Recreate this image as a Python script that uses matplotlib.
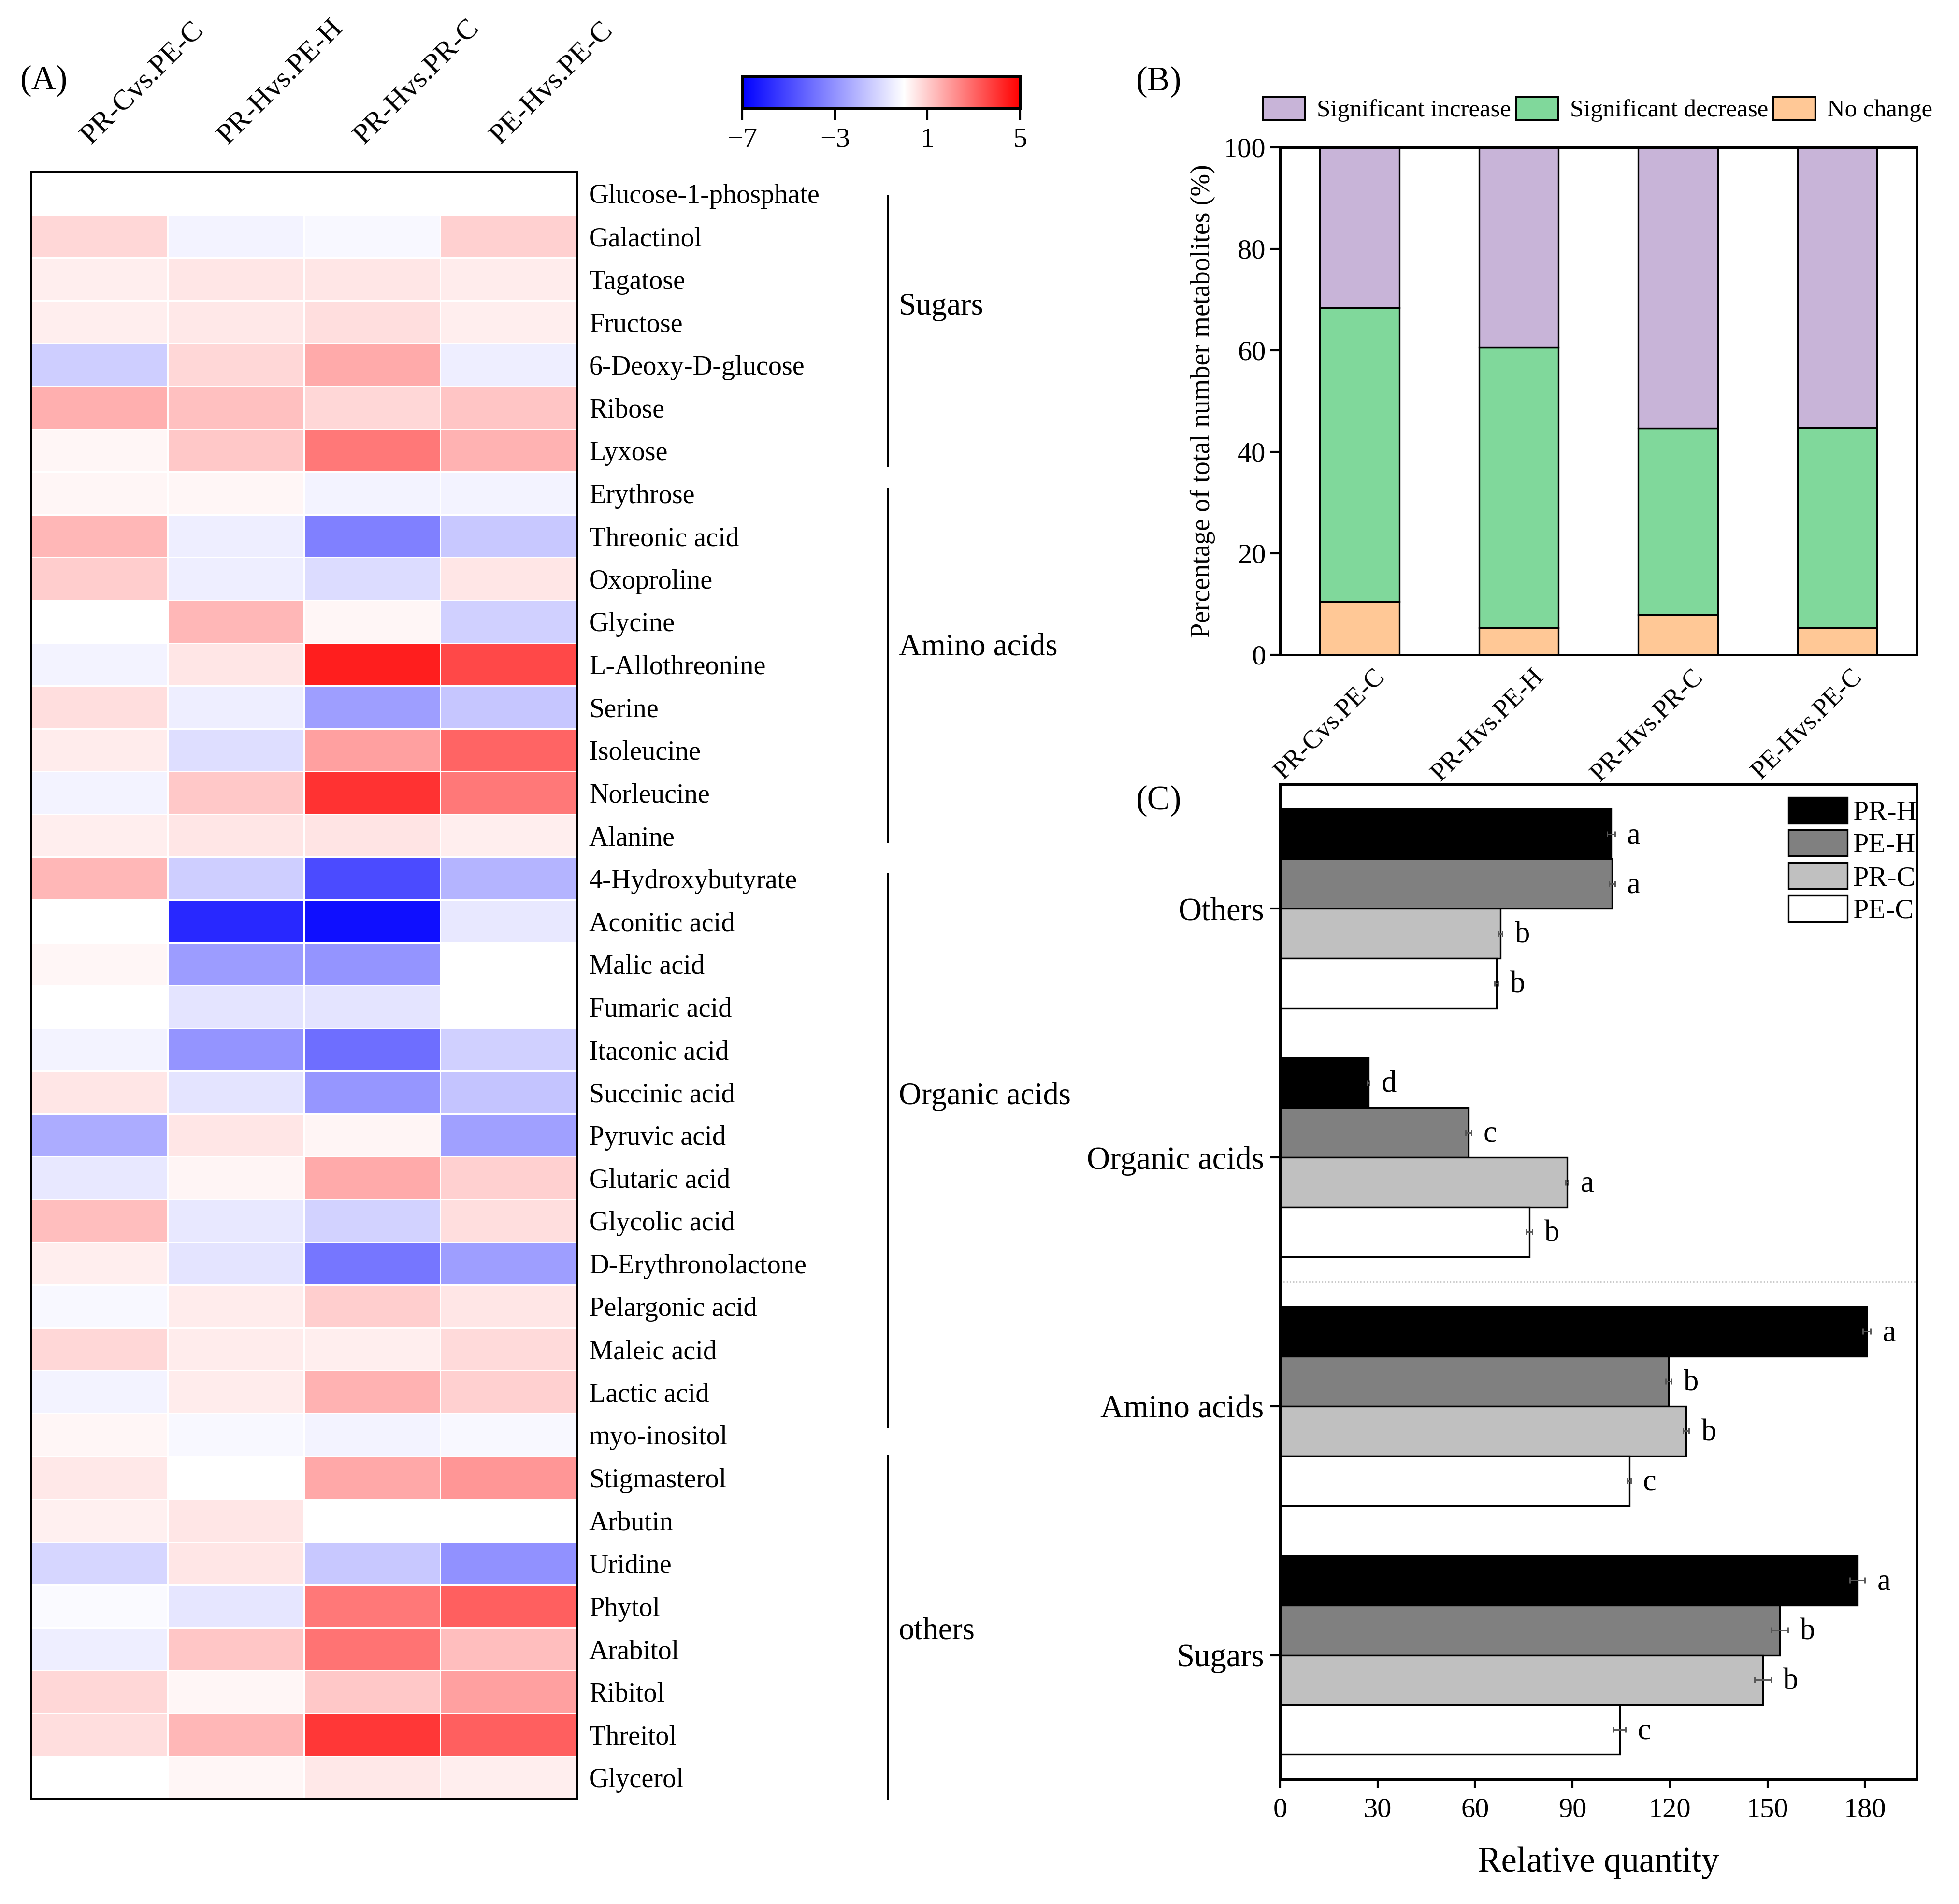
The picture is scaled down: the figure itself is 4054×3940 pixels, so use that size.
import numpy as np
import matplotlib
matplotlib.use('Agg')
import matplotlib.pyplot as plt
import matplotlib.transforms as mtransforms
from matplotlib.colors import LinearSegmentedColormap, Normalize
from matplotlib.patches import Patch

plt.rcParams['font.family'] = ['Liberation Serif', 'DejaVu Serif']

# ---------------- data ----------------
comparisons = ['PR-Cvs.PE-C', 'PR-Hvs.PE-H', 'PR-Hvs.PR-C', 'PE-Hvs.PE-C']

metabolites = [
    'Glucose-1-phosphate', 'Galactinol', 'Tagatose', 'Fructose', '6-Deoxy-D-glucose',
    'Ribose', 'Lyxose',
    'Erythrose', 'Threonic acid', 'Oxoproline', 'Glycine', 'L-Allothreonine', 'Serine',
    'Isoleucine', 'Norleucine', 'Alanine',
    '4-Hydroxybutyrate', 'Aconitic acid', 'Malic acid', 'Fumaric acid', 'Itaconic acid',
    'Succinic acid', 'Pyruvic acid', 'Glutaric acid', 'Glycolic acid', 'D-Erythronolactone',
    'Pelargonic acid', 'Maleic acid', 'Lactic acid', 'myo-inositol',
    'Stigmasterol', 'Arbutin', 'Uridine', 'Phytol', 'Arabitol', 'Ribitol', 'Threitol', 'Glycerol',
]

groups = ['Sugars', 'Amino acids', 'Organic acids', 'others']

# log2 fold change, one row per metabolite, columns follow `comparisons`
fold_change = np.array([
    [0.00, 0.00, 0.00, 0.00],
    [0.78, -0.33, -0.19, 0.92],
    [0.33, 0.49, 0.49, 0.37],
    [0.33, 0.45, 0.65, 0.33],
    [-1.35, 0.78, 1.67, -0.47],
    [1.57, 1.24, 0.78, 1.14],
    [0.18, 1.08, 2.65, 1.51],
    [0.18, 0.18, -0.33, -0.33],
    [1.41, -0.47, -3.49, -1.51],
    [0.98, -0.47, -0.96, 0.49],
    [0.00, 1.41, 0.18, -1.29],
    [-0.33, 0.49, 4.41, 3.59],
    [0.65, -0.47, -2.66, -1.56],
    [0.37, -0.91, 1.86, 3.04],
    [-0.33, 1.08, 4.02, 2.65],
    [0.33, 0.49, 0.53, 0.33],
    [1.41, -1.35, -4.94, -2.06],
    [0.00, -5.90, -6.59, -0.63],
    [0.18, -2.72, -2.94, 0.00],
    [0.00, -0.74, -0.74, 0.00],
    [-0.33, -2.94, -3.98, -1.29],
    [0.49, -0.74, -2.88, -1.62],
    [-2.28, 0.49, 0.20, -2.61],
    [-0.63, 0.20, 1.67, 0.92],
    [1.27, -0.63, -1.24, 0.65],
    [0.33, -0.74, -3.76, -2.66],
    [-0.19, 0.37, 0.96, 0.49],
    [0.78, 0.37, 0.33, 0.73],
    [-0.33, 0.37, 1.51, 0.92],
    [0.18, -0.19, -0.33, -0.19],
    [0.45, 0.00, 1.71, 2.06],
    [0.29, 0.49, 0.00, 0.00],
    [-1.13, 0.49, -1.51, -3.02],
    [-0.14, -0.69, 2.65, 3.14],
    [-0.47, 1.12, 2.75, 1.27],
    [0.78, 0.18, 1.08, 1.86],
    [0.65, 1.41, 3.92, 3.14],
    [0.00, 0.18, 0.45, 0.33],
])

# panel B: share of metabolites (%)
pct_increase = [31.6, 39.5, 55.3, 55.3]
pct_decrease = [57.9, 55.3, 36.8, 39.5]
pct_nochange = [10.5, 5.3, 7.9, 5.3]

# panel C: relative quantity per class (bottom to top)
classes = ['Sugars', 'Amino acids', 'Organic acids', 'Others']
treatments = ['PR-H', 'PE-H', 'PR-C', 'PE-C']
rel_qty = {
    'PR-H': [177.7, 180.5, 27.2, 101.9],
    'PE-H': [153.8, 119.6, 58.0, 102.2],
    'PR-C': [148.6, 125.0, 88.3, 67.8],
    'PE-C': [104.5, 107.5, 76.7, 66.6],
}
rel_err = {
    'PR-H': [2.3, 1.2, 0.3, 1.2],
    'PE-H': [2.5, 0.9, 0.9, 0.9],
    'PR-C': [2.5, 0.9, 0.4, 0.7],
    'PE-C': [1.8, 0.5, 0.9, 0.5],
}
letters = {
    'PR-H': ['a', 'a', 'd', 'a'],
    'PE-H': ['b', 'b', 'c', 'a'],
    'PR-C': ['b', 'b', 'a', 'b'],
    'PE-C': ['c', 'c', 'b', 'b'],
}

# ---------------- layout helpers ----------------
bracket_spans = [(0.55, 6.85), (7.4, 15.65), (16.4, 29.3), (30.0, 38.0)]
group_label_rows = [3.15, 11.1, 21.6, 34.1]

fig = plt.figure(figsize=(4054 / 300, 3940 / 300), dpi=300)

# ---------------- (A) heatmap ----------------
# white sits exactly at 0 on a -7..5 scale
cmap = LinearSegmentedColormap.from_list('bwr_shift', [(0, 'blue'), (7 / 12, 'white'), (1, 'red')], N=1201)
norm = Normalize(vmin=-7, vmax=5)

axA = fig.add_axes([0.0158, 0.0553, 0.2787, 0.8543])
n_rows, n_cols = fold_change.shape
mesh = axA.pcolormesh(np.arange(n_cols + 1), np.arange(n_rows + 1), fold_change,
                      cmap=cmap, norm=norm, edgecolors='white', linewidth=0.7)
axA.set_xlim(0, n_cols)
axA.set_ylim(n_rows, 0)
axA.set_xticks([])
axA.yaxis.tick_right()
axA.set_yticks(np.arange(n_rows) + 0.5)
axA.set_yticklabels(metabolites, fontsize=13.5)
axA.tick_params(axis='y', length=0, pad=6)
for sp in axA.spines.values():
    sp.set_linewidth(1.2)

col_trans = mtransforms.blended_transform_factory(axA.transData, axA.transAxes)
for i, c in enumerate(comparisons):
    axA.text(i + 0.47, 1.014, c, transform=col_trans, rotation=45, rotation_mode='anchor',
             ha='left', va='bottom', fontsize=14.5)

grp_trans = mtransforms.blended_transform_factory(fig.transFigure, axA.transData)
for g, (s, e), yl in zip(groups, bracket_spans, group_label_rows):
    axA.plot([0.4531, 0.4531], [s, e], transform=grp_trans, clip_on=False, color='black', lw=1.2)
    axA.text(0.4588, yl, g, transform=grp_trans, ha='left', va='center', fontsize=15.5)

cax = fig.add_axes([0.3789, 0.9431, 0.1418, 0.01675])
cb = fig.colorbar(mesh, cax=cax, orientation='horizontal', ticks=[-7, -3, 1, 5])
cax.tick_params(length=6, width=1, labelsize=14, direction='out')
cb.outline.set_linewidth(1.2)

# ---------------- (B) stacked bars ----------------
axB = fig.add_axes([0.6534, 0.6561, 0.3251, 0.2665])
x = np.arange(len(comparisons))
c_inc, c_dec, c_no = '#C8B4D8', '#80D89B', '#FFC896'
bottom_dec = np.array(pct_nochange)
bottom_inc = bottom_dec + np.array(pct_decrease)
axB.bar(x, pct_nochange, width=0.5, color=c_no, edgecolor='black', lw=0.8)
axB.bar(x, pct_decrease, width=0.5, bottom=bottom_dec, color=c_dec, edgecolor='black', lw=0.8)
axB.bar(x, pct_increase, width=0.5, bottom=bottom_inc, color=c_inc, edgecolor='black', lw=0.8)
axB.set_xlim(-0.5, 3.5)
axB.set_ylim(0, 100)
axB.set_yticks(np.arange(0, 101, 20))
# labels sit a touch right of the bar centre, as in the original
axB.set_xticks(x + 0.08)
axB.set_xticklabels(comparisons, rotation=45, ha='right', va='top', rotation_mode='anchor', fontsize=13)
axB.tick_params(axis='x', length=0, pad=5)
axB.tick_params(axis='y', length=5, width=1, labelsize=14, pad=2)
axB.set_ylabel('Percentage of total number metabolites (%)', fontsize=13.5, labelpad=4)
for sp in axB.spines.values():
    sp.set_linewidth(1.2)
handles = [Patch(facecolor=c_inc, edgecolor='black', lw=0.8, label='Significant increase'),
           Patch(facecolor=c_dec, edgecolor='black', lw=0.8, label='Significant decrease'),
           Patch(facecolor=c_no, edgecolor='black', lw=0.8, label='No change')]
axB.legend(handles=handles, loc='center left', bbox_to_anchor=(-0.027, 1.075), ncol=3,
           frameon=False, fontsize=12.2, handlelength=1.7, handleheight=1.06,
           handletextpad=0.5, columnspacing=0.2, borderpad=0, borderaxespad=0)

# ---------------- (C) horizontal bars ----------------
axC = fig.add_axes([0.6534, 0.0655, 0.3251, 0.5226])
y = np.arange(len(classes))
offsets = [0.3, 0.1, -0.1, -0.3]
fills = ['black', '#808080', '#C0C0C0', 'white']
for t, off, fc in zip(treatments, offsets, fills):
    axC.barh(y + off, rel_qty[t], height=0.2, color=fc, edgecolor='black', lw=0.8, label=t,
             xerr=rel_err[t], error_kw=dict(ecolor='#555555', elinewidth=0.7, capsize=1.4, capthick=0.7))
    for yi, v, e, lt in zip(y + off, rel_qty[t], rel_err[t], letters[t]):
        axC.annotate(lt, (v + e, yi), xytext=(6, -1), textcoords='offset points',
                     ha='left', va='center', fontsize=15)
axC.axhline(1.5, color='#BBBBBB', ls=':', lw=0.6)
axC.set_xlim(0, 196)
axC.set_ylim(-0.5, 3.5)
axC.set_xticks(np.arange(0, 181, 30))
axC.set_yticks(y)
axC.set_yticklabels(classes, fontsize=16)
axC.tick_params(axis='x', length=4, width=1, labelsize=14, pad=5)
axC.tick_params(axis='y', length=5, width=1, pad=3)
axC.set_xlabel('Relative quantity', fontsize=17.5, labelpad=12)
for sp in axC.spines.values():
    sp.set_linewidth(1.2)
axC.legend(loc='upper left', bbox_to_anchor=(0.798, 0.987), frameon=False, fontsize=14,
           handlelength=2.1, handleheight=1.05, handletextpad=0.2, labelspacing=0.15,
           borderpad=0, borderaxespad=0)

# ---------------- panel labels ----------------
fig.text(0.0224, 0.9576, '(A)', ha='center', va='center', fontsize=17)
fig.text(0.5915, 0.957, '(B)', ha='center', va='center', fontsize=17)
fig.text(0.5915, 0.5794, '(C)', ha='center', va='center', fontsize=17)

fig.savefig('out.png', dpi=300)
